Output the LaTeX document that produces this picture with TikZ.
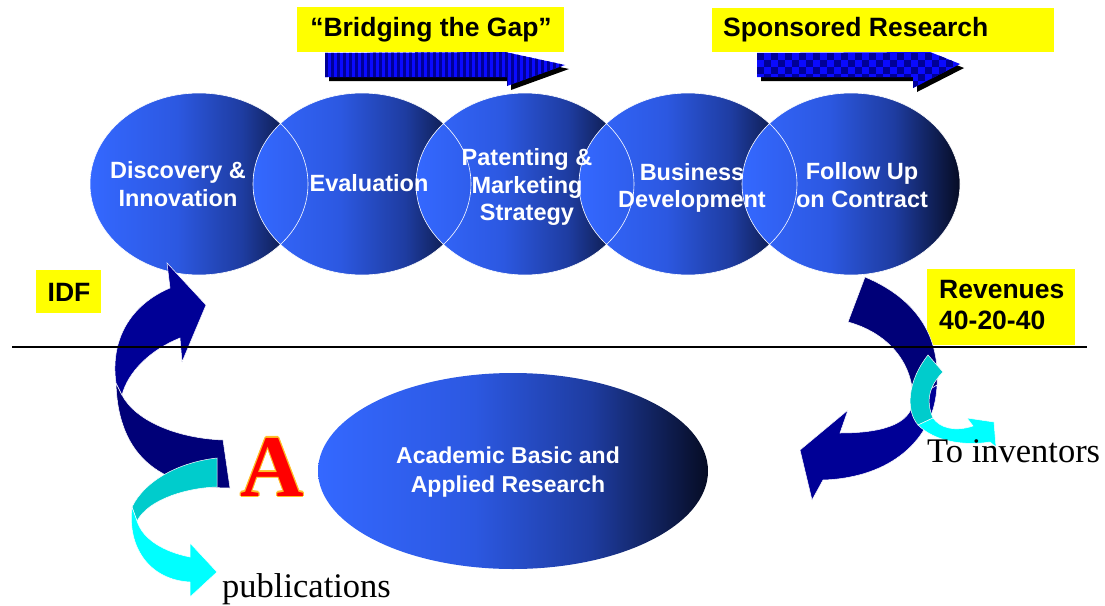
\documentclass[tikz,border=0pt]{standalone}
\usepackage{fontspec}
\setmainfont{Liberation Serif}
\newfontfamily\arial{Liberation Sans}
\definecolor{eA}{RGB}{52,104,255}
\definecolor{eB}{RGB}{44,88,225}
\definecolor{eC}{RGB}{30,60,160}
\definecolor{eD}{RGB}{6,12,36}
\definecolor{navyA}{RGB}{0,0,120}
\definecolor{navyB}{RGB}{0,0,150}
\definecolor{cyanA}{RGB}{0,204,204}
\definecolor{cyanB}{RGB}{0,255,255}
\definecolor{abright}{RGB}{10,10,255}
\definecolor{adark}{RGB}{0,0,150}
\definecolor{ybg}{RGB}{255,255,0}
\definecolor{Ared}{RGB}{255,0,0}
\definecolor{Aedge}{RGB}{255,190,40}
\pgfdeclarehorizontalshading{ellshade}{100bp}{color(0bp)=(eA); color(25bp)=(eA); color(45bp)=(eB); color(60bp)=(eC); color(75bp)=(eD); color(100bp)=(eD)}
\tikzset{
  etext/.style={text=white, align=center, font=\arial\bfseries\fontsize{23.5}{27.5}\selectfont, inner sep=0pt},
  ytext/.style={text=black, font=\arial\bfseries\fontsize{26.5}{31}\selectfont, inner sep=0pt},
  serifl/.style={text=black, font=\fontsize{34.5}{40}\selectfont, inner sep=0pt},
  band/.style={draw=white, line width=0.5pt},
  bigA/.style={font=\bfseries\fontsize{88}{90}\selectfont, inner sep=0pt, anchor=base},
}
\begin{document}
\begin{tikzpicture}[x=1pt,y=-1pt]
\useasboundingbox (0,0) rectangle (1105,605);
% ellipses
\foreach \cx in {199,362,525,688,851}
  \path[shading=ellshade] (\cx,184) ellipse [x radius=109pt, y radius=91pt];
\foreach \cx in {199,362,525,688,851}
  \draw[white, line width=0.6pt] (\cx,184) ellipse [x radius=109pt, y radius=91pt];
\node[etext] (t1) at (178,184) {Discovery \&\\Innovation};
\node[etext] (t2) at (369,183) {Evaluation};
\node[etext] (t3) at (527,187) {Patenting \&\\Marketing\\Strategy};
\node[etext] (t4) at (692,188) {Business\\Development};
\node[etext] (t5) at (862,185) {Follow Up\\on Contract};
% academic ellipse
\path[shading=ellshade] (513,471) ellipse [x radius=195pt, y radius=98pt];
\node[etext, font=\arial\bfseries\fontsize{23}{29}\selectfont] (acad) at (508,472) {Academic Basic and\\Applied Research};
% top arrows
\fill[black] (329,57) -- (509,56) -- (569,69) -- (511,90) -- (511,81) -- (329,81) -- cycle;
\begin{scope}
\clip (325,53) -- (505,52) -- (565,65) -- (507,86) -- (507,77) -- (325,77) -- cycle;
\fill[abright] (300,40) rectangle (600,100);
\foreach \x in {325,331,...,565} \fill[adark] (\x,40) rectangle (\x+3,100);
\end{scope}
\fill[black] (761,57) -- (934,56) -- (964,68) -- (917,92) -- (917,81) -- (761,81) -- cycle;
\begin{scope}
\clip (757,53) -- (930,52) -- (960,64) -- (913,88) -- (913,77) -- (757,77) -- cycle;
\fill[abright] (740,40) rectangle (980,100);
\foreach \x in {757,771,...,960} \foreach \y in {53,67,81} {
  \fill[adark] (\x,\y) rectangle (\x+7,\y+7);
  \fill[adark] (\x+7,\y+7) rectangle (\x+14,\y+14);}
\end{scope}
% yellow labels
\fill[ybg] (297,7) rectangle (564,52);
\node[ytext] (bridge) at (431,30) {“Bridging the Gap”};
\fill[ybg] (712,8) rectangle (1054,52);
\node[ytext, anchor=west] (spons) at (723,30) {Sponsored Research};
\fill[ybg] (36,270) rectangle (101,313);
\node[ytext] (idf) at (69,292) {IDF};
\fill[ybg] (927,269) rectangle (1075,345);
\node[ytext, anchor=north west, align=left] (rev) at (939,280) {Revenues\\40-20-40};
% left navy arrow
\filldraw[navyA, band] (122,395) .. controls (135,420) and (175,438) .. (223,440) -- (230,488) .. controls (165,488) and (118,460) .. (116,383) -- cycle;
\filldraw[navyB, band] (116,383) .. controls (110,340) and (130,305) .. (170,288) -- (167,263) -- (206,305) -- (182,362) -- (180,338) .. controls (150,350) and (128,372) .. (122,395) -- cycle;
% left cyan arrow
\filldraw[cyanA, band] (217,458) .. controls (180,462) and (145,480) .. (132,507) -- (137,521) .. controls (148,500) and (185,488) .. (217,487) -- cycle;
\filldraw[cyanB, band] (132,507) .. controls (127,548) and (150,580) .. (190,582) -- (190,597) -- (217,572) -- (190,543) -- (190,557) .. controls (165,552) and (143,540) .. (137,521) -- cycle;
% right navy arrow
\filldraw[navyA, band] (865,277) .. controls (920,300) and (940,340) .. (937,385) -- (913,400) .. controls (913,360) and (885,332) .. (848,322) -- cycle;
\filldraw[navyB, band] (937,385) .. controls (935,440) and (890,478) .. (823,480) -- (812,500) -- (800,450) -- (848,410) -- (840,433) .. controls (880,433) and (912,425) .. (913,400) -- cycle;
% right cyan arrow
\filldraw[cyanA, band] (928,355) .. controls (908,380) and (905,410) .. (918,425) -- (933,418) .. controls (925,400) and (930,385) .. (943,372) -- cycle;
\filldraw[cyanB, band] (918,425) .. controls (935,442) and (965,446) .. (990,442) -- (996,447) -- (994,422) -- (967,418) -- (973,426) .. controls (955,432) and (940,428) .. (933,418) -- cycle;
% divider
\coordinate (lineL) at (12,347);
\coordinate (lineR) at (1087,347);
\draw[black, line width=1.4pt] (lineL) -- (lineR);
% letter A with thin outline
\foreach \dx/\dy in {-1.1/0,1.1/0,0/-1.1,0/1.1,-0.8/-0.8,0.8/0.8,-0.8/0.8,0.8/-0.8}
  \node[bigA, text=Aedge] at (272+\dx,496+\dy) {A};
\node[bigA, text=Ared] (letA) at (272,496) {A};
% serif labels
\node[serifl, anchor=base west] (inv) at (927,462) {To inventors};
\node[serifl, anchor=base west] (pub) at (222,597) {publications};
\end{tikzpicture}
\end{document}
